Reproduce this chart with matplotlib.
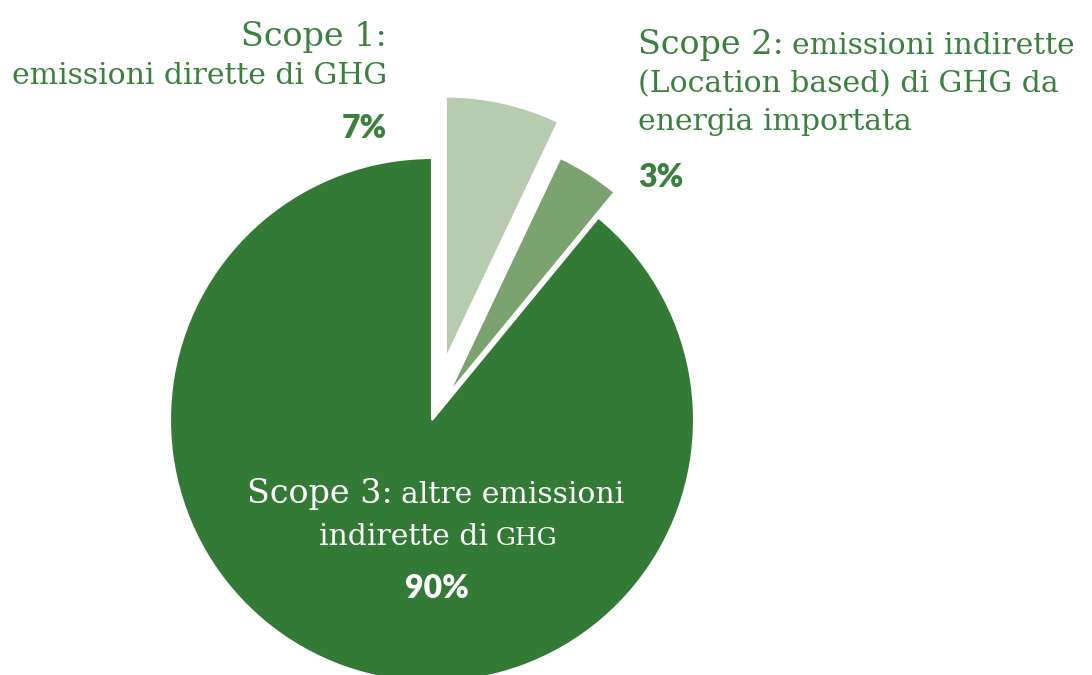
import matplotlib
matplotlib.use("Agg")
import matplotlib.pyplot as plt

# slice data, with the printed percentages
scopes = ["Scope 1", "Scope 2", "Scope 3"]
shares = [7.05, 3.9, 89.05]
pct_labels = ["7%", "3%", "90%"]
colors = ["#b7cbae", "#7ba370", "#327a35"]
green_txt = "#3b813e"

W, H = 1092, 675
fig = plt.figure(figsize=(W / 100, H / 100), dpi=100)
ax = fig.add_axes([0, 0, 1, 1])

ax.pie(shares, colors=colors, startangle=90, counterclock=False,
       explode=[63, 30, 0], radius=262, center=(432, H - 420),
       wedgeprops=dict(edgecolor="white", linewidth=1.5))
ax.set_xlim(0, W)
ax.set_ylim(0, H)
ax.axis("off")

serif = "DejaVu Serif"
bold = "Lato"
big, small = 24, 21.5

def txt(x, y, s, size, ha="left", color=green_txt, font=serif, weight="normal"):
    return ax.text(x, H - y, s, fontsize=size, ha=ha, va="baseline",
                   color=color, family=font, fontweight=weight)

fig.canvas.draw()
r = fig.canvas.get_renderer()

def after(t, x_gap, y, s, size, color=green_txt):
    bb = t.get_window_extent(renderer=r)
    return txt(bb.x1 + x_gap, y, s, size, color=color)

# Scope 1 (right aligned)
txt(387, 46, scopes[0] + ":", big, ha="right")
txt(387, 84, "emissioni dirette di GHG", small, ha="right")
txt(387, 138, pct_labels[0], 23, ha="right", font=bold, weight="heavy")

# Scope 2
t = txt(638, 54, scopes[1] + ":", big)
after(t, 8, 54, "emissioni indirette", small)
txt(638, 92, "(Location based) di GHG da", small)
txt(638, 130, "energia importata", small)
txt(638, 187, pct_labels[1], 23, font=bold, weight="heavy")

# Scope 3 (inside the big slice)
t = txt(247, 503, scopes[2] + ":", big, color="white")
after(t, 8, 503, "altre emissioni", small, color="white")
t = txt(319, 545, "indirette di", small, color="white")
after(t, 8, 545, "GHG", 18, color="white")
txt(437, 598, pct_labels[2], 23, ha="center", color="white", font=bold, weight="heavy")

fig.savefig("out.png", dpi=100, facecolor="white")
